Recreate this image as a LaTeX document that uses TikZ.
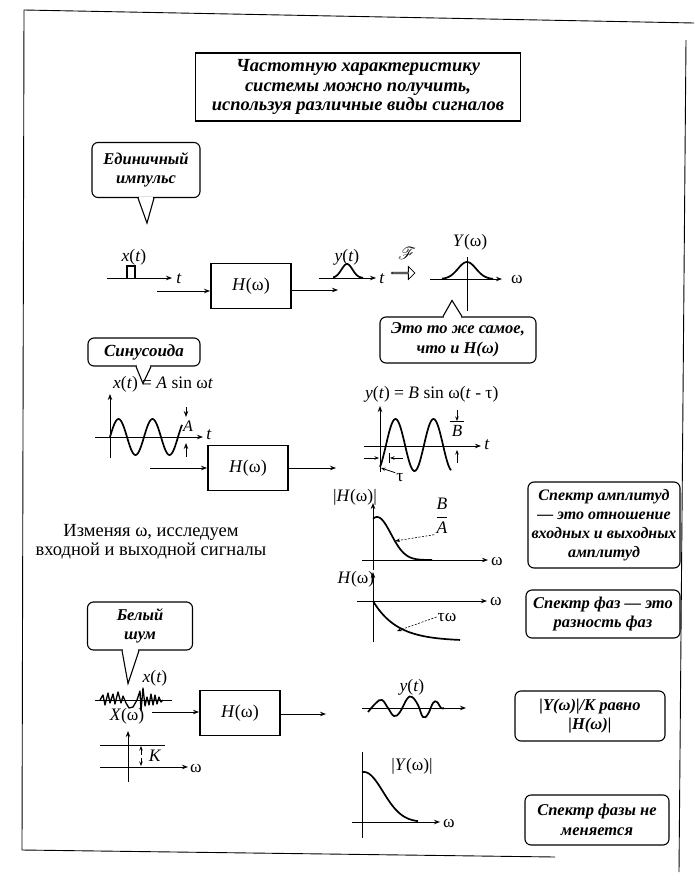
\documentclass[tikz,border=0pt]{standalone}
\usepackage{fontspec}
\setmainfont{Liberation Serif}
\usepackage{mathrsfs}
\usetikzlibrary{arrows.meta,shapes.arrows,calc}
\tikzset{
  ax/.style={line width=0.9pt,-{Stealth[length=6pt,width=4.5pt]}},
  ln/.style={line width=0.9pt},
  crv/.style={line width=1.7pt},
  frame/.style={line width=0.9pt},
  hbox/.style={draw,line width=1.9pt,minimum width=80pt,minimum height=45pt,inner sep=0pt,font=\fontsize{18}{20}\selectfont},
  tbox/.style={draw,line width=1.1pt,rounded corners=6pt,align=center,inner sep=0pt,font=\fontsize{16.5}{19.5}\selectfont\bfseries\itshape},
  titlebox/.style={draw,line width=1.2pt,align=center,inner sep=0pt,font=\fontsize{18.5}{19.5}\selectfont\bfseries\itshape},
  lbl/.style={inner sep=1pt,font=\fontsize{17.5}{19}\selectfont},
  tail/.style={line width=1.1pt},
  lead/.style={line width=0.6pt,dash pattern=on 2pt off 1.5pt,-{Stealth[length=5pt,width=3.5pt]}},
  tip/.style={line width=0.8pt,-{Stealth[length=4.5pt,width=3.5pt]}},
}
\begin{document}
\begin{tikzpicture}[x=1pt,y=-1pt]
\useasboundingbox (0,0) rectangle (694,875);
% frame
\coordinate (fTL) at (24,10);
\coordinate (fTR) at (694,23);
\coordinate (fBL) at (22,850);
\coordinate (fBR) at (555,857);
\coordinate (fRT) at (686,40);
\coordinate (fRB) at (679,872);
\draw[frame] (fTR) -- (fTL) -- (fBL) -- (fBR);
\draw[frame] (fRT) -- (fRB);

% title
\node[titlebox,minimum width=325pt,minimum height=68pt] (title) at (358,87)
  {Частотную характеристику\\системы можно получить,\\используя различные виды сигналов};

% ---------------- unit impulse ----------------
\node[tbox,minimum width=108pt,minimum height=55pt] (c1) at (146,170) {Единичный\\импульс};
\coordinate (c1a) at ($(c1.south)+(-8,0)$);
\coordinate (c1b) at ($(c1.south)+(8,0)$);
\coordinate (c1p) at ($(c1.south)+(1,25)$);
\fill[white] ($(c1a)+(0.8,-1.5)$) rectangle ($(c1b)+(-0.8,1.5)$);
\draw[tail] (c1a) -- (c1p) -- (c1b);

\node[lbl] (x1) at (134,257) {\textit{x}(\textit{t})};
\coordinate (p1s) at (107,278);
\coordinate (p1e) at (172,278);
\draw[ax] (p1s) -- (p1e);
\node[lbl] (t1) at (179,279) {\textit{t}};
\draw[line width=1.3pt] (127,278) -- (127,266) -- (135,266) -- (135,278);

\node[hbox] (h1) at (251,286) {\textit{H}(ω)};
\coordinate (in1) at (157,291);
\draw[ax] (in1) -- (in1 -| h1.west);
\coordinate (out1) at (338,290);
\draw[ax] (out1 -| h1.east) -- (out1);

\node[lbl] (y1) at (347,257) {\textit{y}(\textit{t})};
\coordinate (q1s) at (319,278);
\coordinate (q1e) at (376,278);
\draw[ax] (q1s) -- (q1e);
\node[lbl] (t2) at (382,279) {\textit{t}};
\draw[crv] plot[domain=333:363,samples=40] (\x,{278-14*exp(-((\x-347)^2)/(2*5.5^2))});

\node[lbl] (F) at (407,253) {$\mathscr{F}$};
\node[draw,single arrow,line width=0.8pt,minimum height=23pt,minimum width=13pt,single arrow head extend=3pt,inner sep=0pt] (farr) at (403,273) {};

\node[lbl] (Y1) at (470,242) {\textit{Y}(ω)};
\coordinate (r1s) at (430,279);
\coordinate (r1e) at (502,279);
\draw[ax] (r1s) -- (r1e);
\node[lbl] (w1) at (517,279) {ω};
\coordinate (v1t) at (467,257);
\coordinate (v1b) at (467,311);
\draw[ln] (v1t) -- (v1b);
\draw[crv] plot[domain=442:493,samples=50] (\x,{279-17*exp(-((\x-467)^2)/(2*9^2))});

\node[tbox,minimum width=156pt,minimum height=46pt] (c2) at (458,340) {Это то же самое,\\что и \textit{H}(ω)};
\coordinate (c2a) at ($(c2.north)+(-15,0)$);
\coordinate (c2b) at ($(c2.north)+(4,0)$);
\coordinate (c2p) at ($(c2.north)+(-6,-16)$);
\fill[white] ($(c2a)+(0.8,1.5)$) rectangle ($(c2b)+(-0.8,-1.5)$);
\draw[tail] (c2a) -- (c2p) -- (c2b);

% ---------------- sinusoid ----------------
\node[tbox,minimum width=112pt,minimum height=28pt,font=\fontsize{17}{19}\selectfont\bfseries\itshape] (c3) at (144,352) {Синусоида};
\coordinate (c3a) at ($(c3.south)+(-8,0)$);
\coordinate (c3b) at ($(c3.south)+(7,0)$);
\coordinate (c3p) at ($(c3.south)+(-1,17)$);
\fill[white] ($(c3a)+(0.8,-1.5)$) rectangle ($(c3b)+(-0.8,1.5)$);
\draw[tail] (c3a) -- (c3p) -- (c3b);

\node[lbl,anchor=west] (eq1) at (112,384) {\textit{x}(\textit{t}) = \textit{A} sin ω\textit{t}};
\coordinate (s1b) at (110,458);
\coordinate (s1t) at (110,394);
\draw[ax] (s1b) -- (s1t);
\coordinate (s1l) at (95,437);
\coordinate (s1r) at (203,437);
\draw[ax] (s1l) -- (s1r);
\node[lbl] (t3) at (209,435) {\textit{t}};
\draw[crv] plot[domain=110:182,samples=90] (\x,{437-18*sin((\x-110)/34*360)});
\coordinate (a1t) at (186,407);
\coordinate (a1m) at (186,417);
\draw[ax] (a1t) -- (a1m);
\node[lbl,font=\fontsize{16}{18}\selectfont] (A) at (188,426) {\textit{A}};
\coordinate (a2b) at (186,457);
\coordinate (a2m) at (186,443);
\draw[ax] (a2b) -- (a2m);

\node[hbox] (h2) at (248,468) {\textit{H}(ω)};
\coordinate (in2) at (150,468);
\draw[ax] (in2) -- (h2.west);
\coordinate (out2) at (336,468);
\draw[ax] (h2.east) -- (out2);

\node[lbl,anchor=west] (eq2) at (364,394) {\textit{y}(\textit{t}) = \textit{B} sin ω(\textit{t} - τ)};
\coordinate (s2b) at (380,472);
\coordinate (s2t) at (380,406);
\draw[ax] (s2b) -- (s2t);
\coordinate (s2l) at (364,446);
\coordinate (s2r) at (481,446);
\draw[ax] (s2l) -- (s2r);
\node[lbl] (t4) at (487,445) {\textit{t}};
\draw[crv] plot[domain=380:451,samples=100] (\x,{445-26*sin((\x-386)/38*360)});
\coordinate (ta1) at (364,458);
\coordinate (ta2) at (379,458);
\draw[tip] (ta1) -- (ta2);
\coordinate (tb1) at (403,458);
\coordinate (tb2) at (390,458);
\draw[tip] (tb1) -- (tb2);
\draw[line width=0.6pt] (389,453) -- (389,463);
\node[lbl] (tau) at (400,478) {τ};
\coordinate (taup) at (381,468);
\draw[tip] (tau.north west) -- (taup);
\coordinate (b1t) at (457,410);
\coordinate (b1m) at (457,421);
\draw[tip] (b1t) -- (b1m);
\draw[ln] (450,421) -- (464,421);
\node[lbl,font=\fontsize{17}{18}\selectfont] (B) at (457,431) {\textit{B}};
\coordinate (b2b) at (457,463);
\coordinate (b2m) at (457,450);
\draw[tip] (b2b) -- (b2m);

% ---------------- amplitude spectrum ----------------
\node[lbl] (Habs) at (355,497) {|\textit{H}(ω)|};
\coordinate (u1b) at (373,570);
\coordinate (u1t) at (373,503);
\draw[ax] (u1b) -- (u1t);
\coordinate (u1l) at (362,560);
\coordinate (u1r) at (488,560);
\draw[ax] (u1l) -- (u1r);
\node[lbl] (w2) at (497,561) {ω};
\draw[crv] plot[domain=373:432,samples=60] (\x,{560-43*exp(-((\x-377)^2)/(2*14^2))});
\node[lbl] (BA) at (442,516) {$\displaystyle\frac{\textit{B}}{\textit{A}}$};
\coordinate (BAp) at (395,541);
\draw[lead] (BA.south west) -- (BAp);

\node[tbox,minimum width=152pt,minimum height=86pt,font=\fontsize{16}{19}\selectfont\bfseries\itshape] (c4) at (604,525)
  {Спектр амплитуд\\— это отношение\\входных и выходных\\амплитуд};

\node[lbl,align=center,font=\fontsize{18.5}{19}\selectfont] (izm) at (151,542) {Изменяя ω, исследуем\\входной и выходной сигналы};

% ---------------- phase spectrum ----------------
\node[lbl] (Hph) at (356,579) {\textit{H}(ω)};
\coordinate (u2b) at (373,642);
\coordinate (u2t) at (373,572);
\draw[ax] (u2b) -- (u2t);
\coordinate (u2l) at (357,601);
\coordinate (u2r) at (487,601);
\draw[ax] (u2l) -- (u2r);
\node[lbl] (w3) at (496,601) {ω};
\draw[crv] plot[domain=373:460,samples=60] (\x,{601+40*(1-exp(-(\x-373)/24))});
\node[lbl] (tw) at (447,617) {τω};
\coordinate (twp) at (397,631);
\draw[lead] (tw.west) -- (twp);

\node[tbox,minimum width=154pt,minimum height=48pt] (c5) at (603,614) {Спектр фаз — это\\разность фаз};

% ---------------- white noise ----------------
\node[tbox,minimum width=105pt,minimum height=48pt] (c6) at (140,626) {Белый\\шум};
\coordinate (c6a) at ($(c6.south)+(-18,0)$);
\coordinate (c6b) at ($(c6.south)+(-1,0)$);
\coordinate (c6p) at ($(c6.south)+(-12,33)$);
\fill[white] ($(c6a)+(0.8,-1.5)$) rectangle ($(c6b)+(-0.8,1.5)$);
\draw[tail] (c6a) -- (c6p) -- (c6b);

\node[lbl] (x3) at (155,678) {\textit{x}(\textit{t})};
\coordinate (n1l) at (95,700);
\coordinate (n1r) at (172,700);
\draw[ln] (n1l) -- (n1r);
\draw[line width=1.3pt,line join=round] (100,700) -- (103,695) -- (105,705) -- (108,693) -- (110,703) -- (113,694) -- (115,704) -- (118,692) -- (121,703) -- (123,696) -- (126,703) -- (129,708) -- (133,707) -- (137,700) -- (140,691) -- (141,711) -- (143,688) -- (145,706) -- (147,697) -- (149,705) -- (151,694) -- (153,705) -- (155,695) -- (157,704) -- (159,697) -- (161,702) -- (163,700);

\node[lbl] (X) at (127,716) {\textit{X}(ω)};
\node[hbox] (h3) at (240,713) {\textit{H}(ω)};
\coordinate (in3) at (152,712);
\draw[ax] (in3) -- (in3 -| h3.west);
\coordinate (out3) at (326,714);
\draw[ax] (out3 -| h3.east) -- (out3);

\coordinate (k1b) at (128,782);
\coordinate (k1t) at (128,731);
\draw[ax] (k1b) -- (k1t);
\coordinate (k2l) at (100,745);
\coordinate (k2r) at (165,745);
\draw[ln] (k2l) -- (k2r);
\coordinate (k3l) at (100,767);
\coordinate (k3r) at (188,767);
\draw[ax] (k3l) -- (k3r);
\node[lbl] (w4) at (196,768) {ω};
\coordinate (kk1) at (141,755);
\coordinate (kk2) at (141,746);
\draw[tip] (kk1) -- (kk2);
\coordinate (kk3) at (141,758);
\coordinate (kk4) at (141,766);
\draw[tip] (kk3) -- (kk4);
\node[lbl] (K) at (155,756) {\textit{K}};

\node[lbl] (y3) at (412,687) {\textit{y}(\textit{t})};
\coordinate (n2l) at (362,708);
\coordinate (n2r) at (466,708);
\draw[ax] (n2l) -- (n2r);
\draw[crv] plot[smooth,tension=0.7] coordinates {(368,712) (376,703) (382,700) (388,708) (394,716) (400,712) (407,699) (412,697) (418,705) (423,717) (428,714) (433,703) (437,702) (441,708) (444,708)};

\node[tbox,minimum width=150pt,minimum height=50pt] (c7) at (590,716) {|\textit{Y}(ω)|/\textit{K} равно\\|\textit{H}(ω)|};

\node[lbl] (Yabs) at (412,766) {|\textit{Y}(ω)|};
\coordinate (m1b) at (362,838);
\coordinate (m1t) at (362,752);
\draw[ln] (m1b) -- (m1t);
\coordinate (m2l) at (352,822);
\coordinate (m2r) at (440,822);
\draw[ax] (m2l) -- (m2r);
\node[lbl] (w5) at (449,823) {ω};
\draw[crv] plot[domain=362:418,samples=60] (\x,{822-50*exp(-((\x-364)^2)/(2*19^2))});

\node[tbox,minimum width=144pt,minimum height=50pt] (c8) at (597,820) {Спектр фазы не\\меняется};
\end{tikzpicture}
\end{document}
